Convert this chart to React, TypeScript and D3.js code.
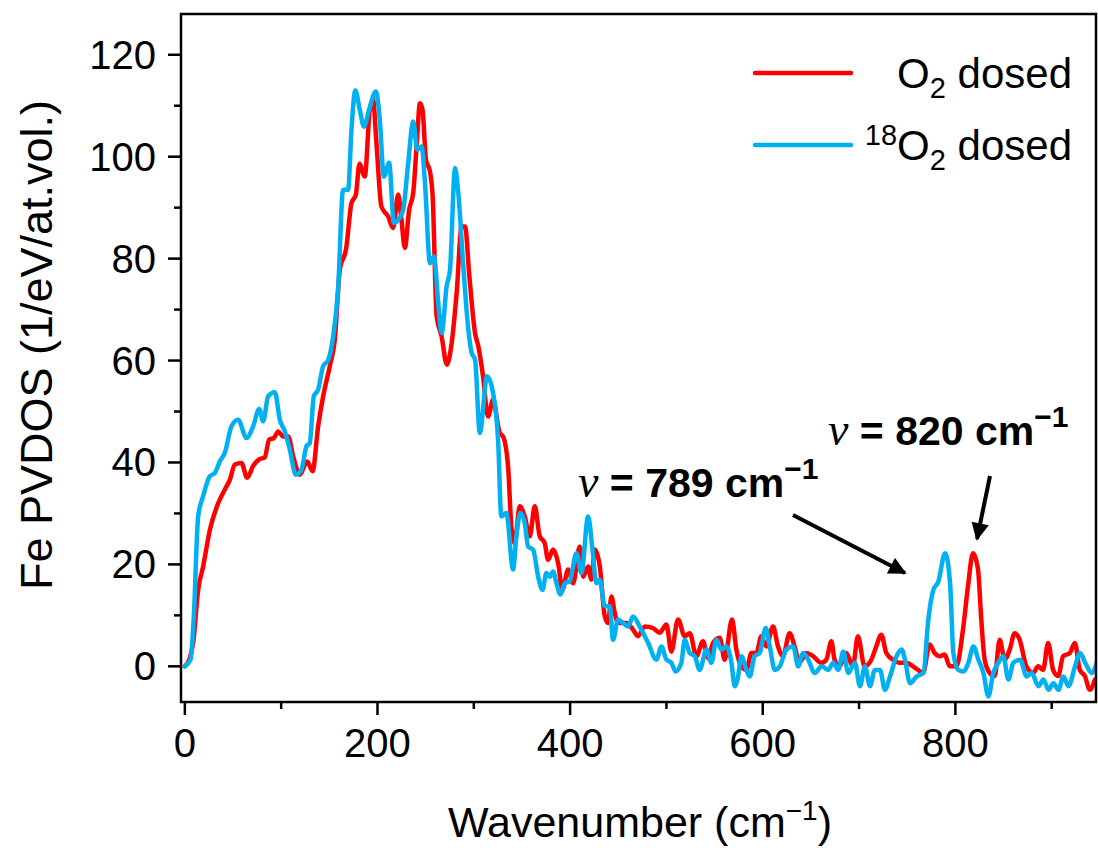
import React from "react";
import * as d3 from "d3";

// O2 dosed (red) : wavenumber, PVDOS
const o2X = [0,5,8.6,13.8,19,26,34.6,41.5,46.7,51.9,58.8,64.7,70.9,77.2,83,87.5,92.4,96.9,102.1,107.3,112.5,119.4,127,132.6,138.4,143.6,150.5,155.7,160.9,167.5,173,177.5,181.3,186.8,192,195.4,198.9,204.1,211,216.2,221.5,224.9,228.4,232.9,237.1,240.6,244.1,246.8,250.3,254.5,257.3,261.4,266.6,272,277,282.2,287.4,290.9,295.4,301.3,304.7,309.6,314.8,320,326.9,330.4,335.6,339,342.5,347.7,352.9,358.1,363.3,368.5,373.6,377.1,382.3,387.5,392,397.9,403.1,410,413.5,418.7,422.1,425.6,430.8,436,439.4,442.9,446.3,449.8,458.4,465.3,470.5,477.5,486.1,493,500,505.1,512,519,524.2,531.1,538,543.2,548.4,555.3,560.5,568.1,572.6,577.8,583,588.2,593.4,598.5,603.7,610.7,615.9,621,627.9,633.1,638.3,645.2,652.2,660.8,666,671.2,674.6,679.8,686.7,693.6,698.8,705.7,712.7,717.9,723.1,728.3,735.2,742.1,749.1,756,761.2,766.4,773.3,778.5,783.7,788.9,794.1,801,807.9,813.1,818.3,823.5,826.9,830.4,835.6,840.8,846,851.2,856.4,861.6,866.8,873.7,880.7,885.9,891.1,896.3,901.5,906.7,911.9,918.8,924,929.2,934.4,939.6,944.8];
const o2Y = [0,1.5,4.6,15,19.6,26.8,32,34.7,36.6,39.6,39.9,37,39.3,40.6,41,44.5,44.8,46.1,45.1,45.1,41.2,37.6,40.2,38.3,47.1,53,58.9,64.1,77.8,82,90.9,92.5,98.6,96.1,109.2,111.2,102.7,90.2,88.3,86,92.6,87.6,82.1,89.6,92.9,102,110.5,109.2,99.4,97.1,92.2,68.7,64.7,59.2,63.4,73.3,86.3,86.3,76.5,65.4,62.8,56.9,49,52.3,45.8,45.1,39.2,27.5,24.2,31.4,29.4,25.5,31.4,25.5,24.2,20.9,22.9,20.3,15,19,16.3,23.5,17.6,19.6,17,22.9,19.6,9.8,8.5,13.7,10.5,8.5,8.5,7.2,5.9,7.8,7.5,6.6,8.2,2.9,9.2,5.9,6.5,2,4.9,1.6,4.6,5.6,1.3,9.2,3.3,0,-0.7,2.6,2.6,5.9,3.9,7.8,3.9,2,6.5,3.9,0.7,2.6,2,0.7,1.3,4.9,1.3,0,2.6,0,5.9,0,1.3,3.9,6.2,2.6,1.3,0.7,0.7,0,-0.7,-1.3,4.3,2.6,2,2.3,0,0,7.2,15.7,22.2,19,9.2,1.3,-1.3,-1.9,5.2,1.3,3.3,6.5,5.2,0,-1.3,0,-0.7,4.6,-0.7,-1.9,2,2.6,4.6,-0.7,-1.9,-4.6,-2.6];

// 18O2 dosed (blue)
const o18X = [0,5.9,9.3,13.8,19,26,31.1,36.3,41.5,48.4,55.3,64,70.9,77.2,81.3,86.5,93.4,98.6,103.8,109,115.2,121.1,126.3,129.7,133.9,138.4,143.6,148.8,154,159.1,164.3,169.5,173,177,181.6,186,191.3,198.3,202.4,206.6,212.1,217,221.5,226.7,231.9,237.1,241.3,245.8,249.3,254.5,258.6,263.1,266.6,271.8,275.3,280.5,283.9,289.1,294.3,297.8,301.3,306.2,313.8,320,325.2,328.6,333.8,340.8,344.2,348.4,352.9,356.4,361.6,366.8,371.3,375.4,378.9,382.3,385.8,390,394.4,399.6,406.6,411.7,418.7,423.2,427.3,430.8,436,441.2,444.6,449.8,455,460.2,465.3,472.3,481,489.6,494.8,500,505.1,509.6,515.5,519,524.2,529.4,534.5,541.5,546.7,551.9,557.1,562.3,567.5,570.9,574.4,577.8,583,586.5,591.6,596.8,603.1,607.3,612.5,617.7,624.6,631.6,636.8,642,647.2,654.1,661,668,673.2,678.4,683.6,688.8,695.7,700.9,706.1,711.3,716.5,721.7,726.9,732.1,739,744.2,747.7,752.9,759.8,766.8,771.9,777.1,782.3,789.3,794.5,797.9,803.1,808.3,813.5,818.7,823.9,829.1,834.2,839.4,844.6,849.8,855,860.2,867.2,874.1,879.3,886.2,891.4,896.6,901.8,907,912.2,917.4,924.3,929.5,934.7,941.6,946.8];
const o18Y = [0,1.3,9.8,29.4,33.4,37.3,37.9,40.2,41.9,47.1,48.4,44.8,47.1,50.5,48.1,53,53.8,48.4,46.1,42.5,37.6,38.6,43.2,43.8,53,54.3,58.9,60.1,64.7,74,93.5,93.5,105.3,113,109.2,105.9,109.2,112.8,107.3,96.1,98.8,87,87.6,89.6,98.8,106.9,101.4,102,94.9,79.1,80.4,71.3,65.4,74.6,77.8,97.8,92.9,78.5,66.1,61.5,60.2,45.8,56.9,53.6,44.5,29.4,30.1,19,25.5,30.1,28.1,23.5,22.9,17.6,15,18.3,17.6,18.6,16.3,14.1,16.3,16.7,22.2,18.3,29.4,22.9,16.3,17,11.8,11.8,5.2,9.2,8.5,7.8,9.8,7.8,4.6,1.3,3.9,1.3,0.7,-1,0.7,5.2,2.6,2,-0.7,3.3,0.7,5.2,3.3,3.9,0.7,-3.9,-2,2,-0.7,-2,2,2.6,7.5,3.9,-0.7,0,3.3,3.9,0,2.6,1.3,-1.3,0,-0.7,0.7,-0.7,2.9,-1.3,0.7,-3.9,0,-3.9,-0.7,-0.7,-4.6,-2,2,3.3,1.3,-3.3,-2,-1.3,9.2,15,16.6,22.2,16.3,2.6,-0.7,-1,0.7,3.9,1.3,-1.3,-5.9,-1.3,0.7,2,-2.6,0.7,1.3,-2,-1.3,-3.9,-2.6,-4.6,-3.3,-4.6,-2,-3.9,0,2.6,0.7,-1.3,0.7];

const xMajorTicks = [0, 200, 400, 600, 800];
const xMinorTicks = [100, 300, 500, 700, 900];
const yMajorTicks = [0, 20, 40, 60, 80, 100, 120];
const yMinorTicks = [10, 30, 50, 70, 90, 110];

const RED = "#ff0000";
const BLUE = "#00b0f0";
const FONT = "'Liberation Sans', Arial, sans-serif";
const SERIF = "'Liberation Serif', 'DejaVu Serif', serif";

export default function App() {
  const L = 181, R = 1096, T = 14, B = 702;
  const x = d3.scaleLinear().domain([-4, 946]).range([L, R]);
  const y = d3.scaleLinear().domain([-7, 128]).range([B, T]);
  const line = d3.line<[number, number]>().x(d => x(d[0])).y(d => y(d[1])).curve(d3.curveMonotoneX);
  const redPts = o2X.map((v, i) => [v, o2Y[i]] as [number, number]);
  const bluePts = o18X.map((v, i) => [v, o18Y[i]] as [number, number]);

  return (
    <svg width={1098} height={848} style={{ position: "absolute", left: 0, top: 0, background: "#fff" }} fontFamily={FONT}>
      <defs>
        <clipPath id="plotClip">
          <rect x={L} y={T} width={R - L} height={B - T} />
        </clipPath>
        <marker id="arrowHead" viewBox="0 0 10 10" refX="9" refY="5" markerWidth="5" markerHeight="4.4" orient="auto" markerUnits="strokeWidth">
          <path d="M0,0 L10,5 L0,10 z" fill="#000" />
        </marker>
      </defs>
      <rect x={0} y={0} width={1098} height={848} fill="#fff" />
      <g clipPath="url(#plotClip)">
        <path d={line(redPts) || ""} fill="none" stroke={RED} strokeWidth={4.5} strokeLinejoin="round" strokeLinecap="round" />
        <path d={line(bluePts) || ""} fill="none" stroke={BLUE} strokeWidth={4.5} strokeLinejoin="round" strokeLinecap="round" />
      </g>
      {/* frame */}
      <rect x={L} y={T} width={R - L} height={B - T} fill="none" stroke="#000" strokeWidth={2.5} />
      {/* x ticks */}
      {xMajorTicks.map(t => (
        <g key={"xm" + t}>
          <line x1={x(t)} x2={x(t)} y1={B} y2={B + 13} stroke="#000" strokeWidth={2.5} />
          <text x={x(t)} y={757} textAnchor="middle" fontSize={40} fill="#000">{t}</text>
        </g>
      ))}
      {xMinorTicks.map(t => (
        <line key={"xn" + t} x1={x(t)} x2={x(t)} y1={B} y2={B + 7} stroke="#000" strokeWidth={2.5} />
      ))}
      {/* y ticks */}
      {yMajorTicks.map(t => (
        <g key={"ym" + t}>
          <line x1={L - 13} x2={L} y1={y(t)} y2={y(t)} stroke="#000" strokeWidth={2.5} />
          <text x={156} y={y(t) + 14} textAnchor="end" fontSize={40} fill="#000">{t}</text>
        </g>
      ))}
      {yMinorTicks.map(t => (
        <line key={"yn" + t} x1={L - 7} x2={L} y1={y(t)} y2={y(t)} stroke="#000" strokeWidth={2.5} />
      ))}
      {/* axis titles */}
      <text x={640} y={837} textAnchor="middle" fontSize={43} fill="#000">
        Wavenumber (cm<tspan dy={-17} fontSize={28}>−1</tspan><tspan dy={17}>)</tspan>
      </text>
      <text transform="translate(52,345) rotate(-90)" textAnchor="middle" fontSize={45} fill="#000">
        Fe PVDOS (1/eV/at.vol.)
      </text>
      {/* legend */}
      <line x1={755} x2={851} y1={73} y2={73} stroke={RED} strokeWidth={4.5} strokeLinecap="round" />
      <text x={1072} y={88} textAnchor="end" fontSize={42} fill="#000">
        O<tspan dy={10} fontSize={29}>2</tspan><tspan dy={-10}> dosed</tspan>
      </text>
      <line x1={755} x2={851} y1={145} y2={145} stroke={BLUE} strokeWidth={4.5} strokeLinecap="round" />
      <text x={1072} y={160} textAnchor="end" fontSize={42} fill="#000">
        <tspan dy={-15} fontSize={29}>18</tspan><tspan dy={15}>O</tspan><tspan dy={10} fontSize={29}>2</tspan><tspan dy={-10}> dosed</tspan>
      </text>
      {/* annotations */}
      <text x={578} y={497} fontSize={41} fontWeight="bold" fill="#000">
        <tspan fontFamily={SERIF} fontStyle="italic" fontWeight="normal" fontSize={46}>ν</tspan> = 789 cm<tspan dy={-18} fontSize={30}>−1</tspan>
      </text>
      <text x={828} y={445} fontSize={41} fontWeight="bold" fill="#000">
        <tspan fontFamily={SERIF} fontStyle="italic" fontWeight="normal" fontSize={46}>ν</tspan> = 820 cm<tspan dy={-18} fontSize={30}>−1</tspan>
      </text>
      <line x1={793} y1={515} x2={905} y2={573} stroke="#000" strokeWidth={4} markerEnd="url(#arrowHead)" />
      <line x1={990} y1={476} x2={977} y2={539} stroke="#000" strokeWidth={4} markerEnd="url(#arrowHead)" />
    </svg>
  );
}
